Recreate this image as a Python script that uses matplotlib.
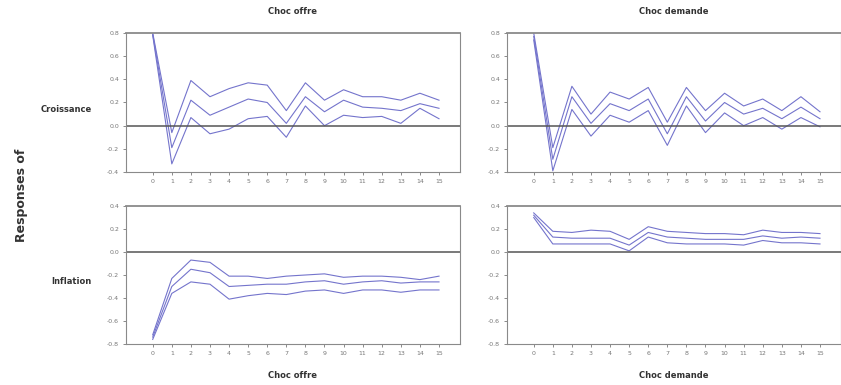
import matplotlib
matplotlib.use('Agg')
import matplotlib.pyplot as plt
import numpy as np

horizons = list(range(16))
shocks = ['Choc offre', 'Choc demande']
variables = ['Croissance', 'Inflation']

# Croissance <- Choc offre
cr_offre = [0.79, -0.19, 0.22, 0.09, 0.16, 0.23, 0.20, 0.02, 0.25, 0.12, 0.22, 0.16, 0.15, 0.13, 0.19, 0.15]
cr_offre_hi = [0.80, -0.06, 0.39, 0.25, 0.32, 0.37, 0.35, 0.13, 0.37, 0.22, 0.31, 0.25, 0.25, 0.22, 0.28, 0.22]
cr_offre_lo = [0.78, -0.33, 0.07, -0.07, -0.03, 0.06, 0.08, -0.10, 0.17, 0.00, 0.09, 0.07, 0.08, 0.02, 0.15, 0.06]

# Croissance <- Choc demande
cr_dem = [0.77, -0.29, 0.25, 0.02, 0.19, 0.13, 0.23, -0.07, 0.25, 0.04, 0.20, 0.10, 0.15, 0.06, 0.16, 0.06]
cr_dem_hi = [0.80, -0.19, 0.34, 0.10, 0.29, 0.23, 0.33, 0.03, 0.33, 0.13, 0.28, 0.17, 0.23, 0.13, 0.25, 0.12]
cr_dem_lo = [0.74, -0.39, 0.14, -0.09, 0.09, 0.03, 0.13, -0.17, 0.17, -0.06, 0.11, 0.00, 0.07, -0.03, 0.07, -0.01]

# Inflation <- Choc offre
inf_offre = [-0.74, -0.30, -0.15, -0.18, -0.30, -0.29, -0.28, -0.28, -0.26, -0.25, -0.28, -0.26, -0.25, -0.27, -0.26, -0.26]
inf_offre_hi = [-0.72, -0.23, -0.07, -0.09, -0.21, -0.21, -0.23, -0.21, -0.20, -0.19, -0.22, -0.21, -0.21, -0.22, -0.24, -0.21]
inf_offre_lo = [-0.76, -0.36, -0.26, -0.28, -0.41, -0.38, -0.36, -0.37, -0.34, -0.33, -0.36, -0.33, -0.33, -0.35, -0.33, -0.33]

# Inflation <- Choc demande
inf_dem = [0.32, 0.13, 0.12, 0.12, 0.12, 0.06, 0.17, 0.13, 0.12, 0.11, 0.11, 0.11, 0.14, 0.12, 0.13, 0.12]
inf_dem_hi = [0.34, 0.18, 0.17, 0.19, 0.18, 0.11, 0.22, 0.18, 0.17, 0.16, 0.16, 0.15, 0.19, 0.17, 0.17, 0.16]
inf_dem_lo = [0.30, 0.07, 0.07, 0.07, 0.07, 0.01, 0.13, 0.08, 0.07, 0.07, 0.07, 0.06, 0.10, 0.08, 0.08, 0.07]

panels = [
    [(cr_offre, cr_offre_hi, cr_offre_lo), (cr_dem, cr_dem_hi, cr_dem_lo)],
    [(inf_offre, inf_offre_hi, inf_offre_lo), (inf_dem, inf_dem_hi, inf_dem_lo)],
]
yticks_rows = [[-0.4, -0.2, 0.0, 0.2, 0.4, 0.6, 0.8], [-0.8, -0.6, -0.4, -0.2, 0.0, 0.2, 0.4]]

W, H = 841, 385
fig = plt.figure(figsize=(W / 100, H / 100), dpi=100)

col_x = [126, 507]
row_y = [(33, 172), (206, 344)]
ax_w = 334
line_col = '#7474cc'
grey = '#8a8a8a'

for r in range(2):
    for c in range(2):
        top, bot = row_y[r]
        ax = fig.add_axes([col_x[c] / W, 1 - bot / H, ax_w / W, (bot - top) / H])
        mid, hi, lo = panels[r][c]
        for s in (hi, mid, lo):
            ax.plot(horizons, s, color=line_col, lw=0.8)
        ax.axhline(0, color='#555555', lw=1.1)
        yt = yticks_rows[r]
        ax.set_ylim(yt[0], yt[-1])
        ax.set_xlim(-1.4, 16.1)
        ax.set_yticks(yt)
        ax.set_yticklabels([f'{v:.1f}' for v in yt])
        ax.set_xticks(horizons)
        ax.tick_params(labelsize=4.5, colors='#777777', length=2, width=0.6, pad=3)
        for sp in ax.spines.values():
            sp.set_color(grey)
            sp.set_linewidth(0.8)
        ax.spines['top'].set_linewidth(1.3)
        if r == 0:
            ax.set_title(shocks[c], fontsize=6, fontweight='bold', color='#333333', pad=14)
        else:
            ax.set_xlabel(shocks[c], fontsize=6, fontweight='bold', color='#333333', labelpad=11)

fig.text(92 / W, 1 - 110 / H, variables[0], fontsize=6, fontweight='bold', color='#333333',
         ha='right', va='center')
fig.text(92 / W, 1 - 282 / H, variables[1], fontsize=6, fontweight='bold', color='#333333',
         ha='right', va='center')
fig.text(22 / W, 1 - 195 / H, 'Responses of', fontsize=9, fontweight='bold', color='#333333',
         rotation=90, ha='center', va='center')

fig.savefig('out.png', dpi=100)
